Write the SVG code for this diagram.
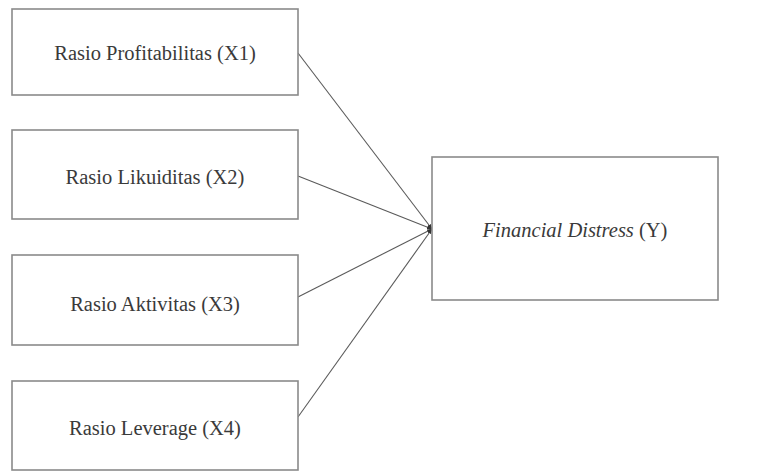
<svg xmlns="http://www.w3.org/2000/svg" width="765" height="472" viewBox="0 0 765 472">
<style>
.box{fill:#fff;stroke:#8a8a8a;stroke-width:1.6}
.lbl{font-family:'Liberation Serif','Times New Roman',Tinos,'DejaVu Serif',serif;font-size:20.5px;fill:#3a3a3a;text-anchor:middle}
.conn{stroke:#5a5a5a;stroke-width:1.1;fill:none}
</style>
<defs>
<marker id="ah" markerWidth="6" markerHeight="6" refX="5" refY="3" orient="auto" markerUnits="userSpaceOnUse">
<path d="M0,1 L5,3 L0,5 Z" fill="#333"/>
</marker>
</defs>
<rect width="765" height="472" fill="#fff"/>
<g id="connectors">
<line class="conn" x1="298" y1="53" x2="432" y2="229" marker-end="url(#ah)"/>
<line class="conn" x1="298" y1="176" x2="432" y2="229" marker-end="url(#ah)"/>
<line class="conn" x1="298" y1="297" x2="432" y2="229" marker-end="url(#ah)"/>
<line class="conn" x1="298" y1="417" x2="432" y2="229" marker-end="url(#ah)"/>
</g>
<g id="x1">
<rect class="box" x="12" y="9" width="286" height="86"/>
<text class="lbl" x="155" y="60">Rasio Profitabilitas (X1)</text>
</g>
<g id="x2">
<rect class="box" x="12" y="130" width="286" height="89"/>
<text class="lbl" x="155" y="184">Rasio Likuiditas (X2)</text>
</g>
<g id="x3">
<rect class="box" x="12" y="255" width="286" height="90"/>
<text class="lbl" x="155" y="311">Rasio Aktivitas (X3)</text>
</g>
<g id="x4">
<rect class="box" x="12" y="381" width="286" height="89"/>
<text class="lbl" x="155" y="435">Rasio Leverage (X4)</text>
</g>
<g id="y">
<rect class="box" x="432" y="157" width="286" height="143"/>
<text class="lbl" x="575" y="237"><tspan font-style="italic">Financial Distress</tspan> (Y)</text>
</g>
</svg>
